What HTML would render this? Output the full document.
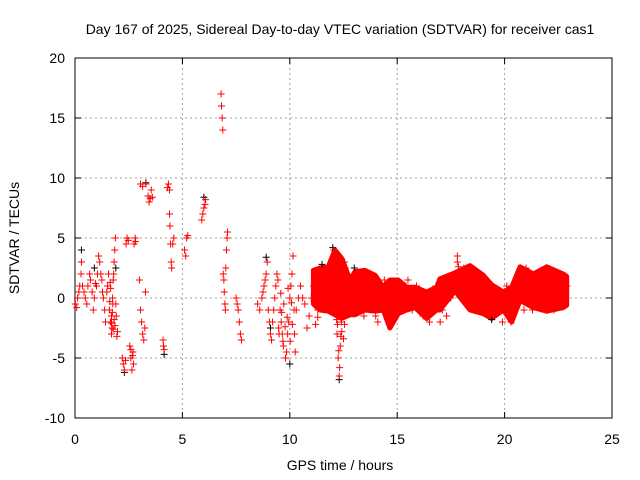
<!DOCTYPE html>
<html><head><meta charset="utf-8"><style>
body{margin:0;background:#fff;}
svg{display:block;font-family:"Liberation Sans",sans-serif;}
</style></head><body>
<svg id="chart" width="640" height="480" viewBox="0 0 640 480">
<rect width="640" height="480" fill="#fff"/>
<g id="grid"></g>
<g id="axes"></g>
<g id="marks"></g>
<text x="340" y="34" text-anchor="middle" font-size="14">Day 167 of 2025, Sidereal Day-to-day VTEC variation (SDTVAR) for receiver cas1</text>
<text x="340" y="470" text-anchor="middle" font-size="14">GPS time / hours</text>
<text transform="translate(19,238) rotate(-90)" text-anchor="middle" font-size="14">SDTVAR / TECUs</text>
</svg>
<script>
const xTicks=[0,5,10,15,20,25];
const yTicks=[-10,-5,0,5,10,15,20];
// dense band envelope (hours 11-23)
const bandHours=[11.1,11.41,11.79,12.1,12.42,12.8,13.04,13.5,13.97,14.35,14.66,15.05,15.44,15.83,16.37,16.84,16.99,17.69,18.39,19.0,19.4,19.94,20.33,20.72,21.34,21.96,22.73,22.89];
const bandUpper=[2.3,2.5,2.6,4.0,3.3,1.5,2.2,2.3,1.9,0.9,1.5,1.5,0.9,0.9,0.5,0.9,1.6,2.1,2.7,1.9,1.1,0.5,0.9,2.6,2.0,2.6,2.0,1.8];
const bandLower=[-0.5,-1.0,-1.1,-1.4,-1.7,-1.4,-1.4,-1.0,-1.1,-1.0,-2.5,-1.3,-1.0,-0.8,-1.7,-1.0,-1.0,0.6,-1.0,-1.3,-1.7,-1.0,-2.0,-0.2,-0.8,-1.1,-0.8,-0.6];
const redPoints=[
[0.02,-0.5],[0.08,-0.8],[0.12,0],[0.18,0.5],[0.22,1],[0.28,2],[0.3,3],[0.35,1],[0.42,0.5],[0.48,0],
[0.55,-0.5],[0.6,1],[0.68,2],[0.72,1.5],[0.8,0.5],[0.85,-1],[0.9,0],[0.95,1.2],
[1.0,1],[1.05,2],[1.1,3.5],[1.15,3],[1.2,2],[1.25,1.5],[1.28,0.5],
[1.32,0],[1.38,-1],[1.42,-2],[1.48,0.5],[1.52,1],[1.56,2],
[1.6,-1],[1.65,-2],[1.7,-3],[1.72,-2.5],[1.75,0],[1.78,1.5],[1.8,2],[1.82,3],[1.85,4],[1.88,5],[1.9,-0.5],[1.92,-1.5],[1.95,-3.2],[1.98,-2.8],[1.7,-1.5],[1.76,-0.5],
[1.62,-0.3],[1.66,0.8],[1.7,-2.1],[1.74,-1.2],[1.78,-2.6],[1.82,-1.8],[1.86,-2.3],[1.64,1.3],
[2.2,-5],[2.25,-5.5],[2.3,-6],[2.35,-5.2],[2.38,4.5],[2.42,5],[2.48,4.8],
[2.55,-4],[2.6,-5],[2.65,-6],[2.7,-4.5],[2.72,-5.5],[2.75,4.5],[2.8,5],[2.82,4.7],[2.6,-4.3],[2.68,-4.8],
[3.0,1.5],[3.05,-1],[3.1,-2],[3.15,-3],[3.2,-3.5],[3.25,-2.5],[3.28,0.5],[3.05,9.5],[3.15,9.3],
[3.3,9.5],[3.4,8.5],[3.45,8],[3.5,8.3],[3.55,9],[3.6,8.4],
[4.1,-3.5],[4.12,-4],[4.15,-4.3],
[4.3,9.2],[4.35,9.5],[4.4,7],[4.42,6],[4.45,4.5],[4.48,3],[4.5,2.5],[4.55,4.5],[4.6,5],[4.4,9],
[5.1,4],[5.15,3.5],[5.2,5],[5.25,5.2],
[5.9,6.5],[5.95,7],[6.0,7.5],[6.05,7.8],[6.08,8.2],
[6.8,17],[6.82,16],[6.85,15],[6.88,14],[6.9,2],[6.93,1.5],[6.95,0.5],[6.98,-0.5],[7.0,-1],[7.02,2.5],[7.05,4],[7.08,5],[7.1,5.5],
[7.5,0],[7.55,-0.5],[7.6,-1],[7.65,-2],[7.7,-3],[7.75,-3.5],
[8.5,-0.5],[8.6,-1],[8.7,0],[8.75,0.5],[8.8,1],[8.85,1.5],[8.9,2],[8.95,3],
[9.0,-1],[9.05,-2],[9.1,-3],[9.15,-3.5],[9.2,-2],[9.25,-1],[9.3,0],[9.35,1],[9.4,2],[9.45,1.5],[9.48,-2.5],[9.5,-3],
[9.55,-1],[9.6,-2],[9.65,-3],[9.7,-4],[9.8,-5],[9.85,-4.5],[9.9,-3],[9.95,-2],[10.0,0],[10.05,1],[10.1,2],[10.15,3.5],[10.2,-1],[10.22,-3],[10.25,-4.5],
[9.62,-1.2],[9.72,-0.5],[9.78,-2.4],[9.88,-1.6],[9.92,0.8],[10.02,-3.6],[10.08,-0.4],[10.12,-2.2],[9.58,0.4],[9.68,-3.6],
[10.3,-1],[10.4,0],[10.5,1],[10.6,0],[10.7,-0.5],[10.8,-2.5],[10.9,-1.5],
[11.0,0],[11.1,1],[11.2,2],[11.3,-1],[11.4,0.5],[11.5,1.5],[11.6,2.5],[11.7,0],[11.75,-1],[11.8,1],[11.9,2],[11.95,0.5],
[12.0,3],[12.05,4],[12.1,2],[12.15,-1],[12.2,-3],[12.25,-5],[12.3,-6.5],[12.35,-4],[12.4,-2],[12.45,0],[12.5,1.5],[12.55,3],[12.58,2.5],[12.6,1],
[12.22,-2.2],[12.28,-4.4],[12.32,-5.8],[12.38,-3.2],[12.42,-2.8],[12.18,-1.8],[11.3,-1.6],[11.2,-2.2],[12.5,-3.4],[12.55,-2.2],
[12.7,0],[12.8,-1],[12.9,1],[13.0,2],[13.1,0.5],[13.2,-0.5],[13.25,1],[13.3,2],[13.35,1.5],[13.4,0],[13.45,-1.5],
[13.5,0],[13.6,1],[13.7,2],[13.8,1.5],[13.9,-0.5],[14.0,-1.5],[14.1,-2],[14.2,0],[14.3,1],[14.4,1.5],[14.5,0.5],[14.6,-1],[14.7,0],[14.8,1],[14.9,0.5],[14.95,-0.5],
[15.0,1],[15.1,0.5],[15.2,0],[15.3,-0.5],[15.4,1],[15.5,1.5],[15.6,0],[15.7,-1],[15.8,0.5],[15.9,1],[16.0,0],[16.2,-1.5],[16.4,-1],
[16.5,-2],[16.6,-1],[16.7,0],[16.8,1],[16.9,-0.5],[17.0,-2],[17.1,-1],[17.2,0.5],[17.3,-1.5],[17.4,0],
[17.5,0],[17.6,1],[17.7,2],[17.8,3.5],[17.9,2],[18.0,1],[18.1,2.5],[18.2,2],[18.4,1.5],[18.6,0.5],[18.8,1],[18.9,2],
[17.8,3.0],[17.85,2.6],[19.0,0.5],[19.1,-0.5],[19.2,-1],[19.3,-1.5],[19.4,0],[19.5,0.5],[19.6,-0.5],[19.8,-1],[19.9,-2],
[20.0,0],[20.1,1],[20.2,-1],[20.3,-2],[20.4,0.5],[20.5,-0.5],[20.6,0],[20.8,1],[20.9,-1],
[21.0,2.5],[21.1,2],[21.2,0],[21.3,-1],[21.4,1],[21.5,1.5],[21.6,-0.5],[21.7,0.5],[21.8,2],[21.9,1],
[22.0,0],[22.1,2],[22.2,1],[22.3,-1],[22.4,0.5],[22.5,1.5],[22.6,2],[22.7,0],[22.8,-0.5],[22.9,1]
];
const blackPoints=[[0.3,4],[0.9,2.5],[1.9,2.5],[2.3,-6.2],[3.3,9.6],[4.15,-4.7],[6.0,8.4],[8.9,3.4],[9.1,-2.5],[10.0,-5.5],[11.5,2.8],[12.0,4.2],[12.3,-6.8],[13.0,2.5],[19.4,-1.8]];
const X0=75,X1=612,Y0=418,Y1=58,xMin=0,xMax=25,yMin=-10,yMax=20;
const sx=v=>X0+(v-xMin)/(xMax-xMin)*(X1-X0);
const sy=v=>Y0-(v-yMin)/(yMax-yMin)*(Y0-Y1);
const NS="http://www.w3.org/2000/svg";
function mk(tag,attrs,parent){const e=document.createElementNS(NS,tag);for(const k in attrs)e.setAttribute(k,attrs[k]);parent.appendChild(e);return e;}
const grid=document.getElementById('grid'),axes=document.getElementById('axes'),marks=document.getElementById('marks');
xTicks.forEach(t=>{const x=sx(t);
 if(t>xMin&&t<xMax){const g=mk('line',{x1:x,x2:x,y1:Y1,y2:Y0,stroke:'#a0a0a0','stroke-dasharray':'2,3','stroke-width':1},grid);
 
 }
 const tk=mk('path',{d:`M${x},${Y0}v-6M${x},${Y1}v6`,stroke:'#000'},axes);
 
 
 const lb=mk('text',{x:x,y:Y0+26,'text-anchor':'middle','font-size':14},axes);lb.textContent=t;
 
 
});
yTicks.forEach(t=>{const y=sy(t);
 if(t>yMin&&t<yMax){const g=mk('line',{x1:X0,x2:X1,y1:y,y2:y,stroke:'#a0a0a0','stroke-dasharray':'2,3','stroke-width':1},grid);
 
 }
 const tk=mk('path',{d:`M${X0},${y}h6M${X1},${y}h-6`,stroke:'#000'},axes);
 
 
 const lb=mk('text',{x:X0-10,y:y+5,'text-anchor':'end','font-size':14},axes);lb.textContent=t;
 
 
});
const bx=mk('rect',{x:X0,y:Y1,width:X1-X0,height:Y0-Y1,fill:'none',stroke:'#000'},axes);


let pts=bandHours.map((h,i)=>`${sx(h)},${sy(bandUpper[i])}`);
for(let i=bandHours.length-1;i>=0;i--)pts.push(`${sx(bandHours[i])},${sy(bandLower[i])}`);
const band=mk('polygon',{points:pts.join(' '),fill:'#f00',stroke:'#f00','stroke-width':5,'stroke-linejoin':'round'},marks);


function plus(p,color){const x=sx(p[0]),y=sy(p[1]);
 return mk('path',{d:`M${x-3.5},${y}h7M${x},${y-3.5}v7`,stroke:color,'stroke-width':1},marks);}
blackPoints.forEach(p=>{const e=plus(p,'#000');
 
 });
redPoints.forEach(p=>{const e=plus(p,'#f00');
 
 });
</script>
</body></html>
